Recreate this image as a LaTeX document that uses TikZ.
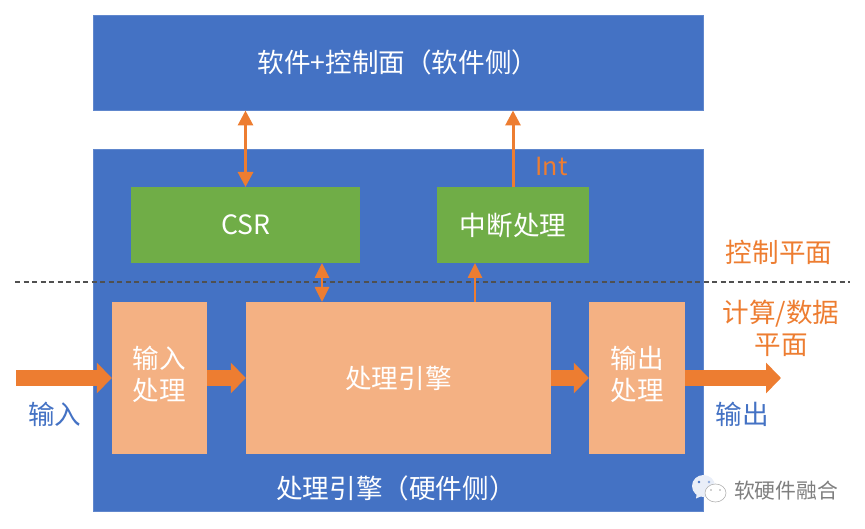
\documentclass[tikz,border=0pt]{standalone}
\usepackage{fontspec}
\setmainfont{Noto Sans CJK SC}[BoldFont={Noto Sans CJK SC}]
\usetikzlibrary{arrows.meta,positioning,calc}
\definecolor{blueb}{HTML}{4472C4}
\definecolor{greenb}{HTML}{70AD47}
\definecolor{peachb}{HTML}{F4B183}
\definecolor{orangeb}{HTML}{ED7D31}
\definecolor{dashc}{HTML}{505050}
\definecolor{markc}{HTML}{7F7F7F}
\tikzset{
 x=1pt,y=-1pt,
 panel/.style={draw=blueb!85!white,line width=.6pt,fill=blueb,text=white,inner sep=0pt,minimum width=#1},
 gbox/.style={draw=none,fill=greenb,text=white,inner sep=0pt,minimum height=76pt,minimum width=#1},
 pbox/.style={draw=none,fill=peachb,text=white,inner sep=0pt,minimum height=152pt,minimum width=#1,align=center},
 lab/.style={font=\fontsize{26.6}{32}\selectfont,inner sep=0pt},
 thinarrow/.style={draw=orangeb,line width=3pt,-{Triangle[length=15pt,width=15pt]}},
 thinboth/.style={draw=orangeb,line width=3pt,{Triangle[length=15pt,width=15pt]}-{Triangle[length=15pt,width=15pt]}},
 smallboth/.style={draw=orangeb,line width=2.6pt,{Triangle[length=15pt,width=14pt]}-{Triangle[length=15pt,width=14pt]}},
 smallarrow/.style={draw=orangeb,line width=2.6pt,-{Triangle[length=15pt,width=14pt]}},
 blockarrow/.style={draw=orangeb,line width=16pt,-{Triangle[length=15pt,width=30pt]}},
}
\begin{document}
\begin{tikzpicture}
\useasboundingbox (0,0) rectangle (865,529);
\node[panel=610pt,minimum height=95pt,lab] (top) at (398,62.5) {\raisebox{1pt}{软件+控制面（软件侧）}};
\node[panel=610pt,minimum height=362pt] (bottom) at (398,330) {};
\node[lab,text=white] (bottomlabel) at (396,488) {处理引擎（硬件侧）};
\node[gbox=229pt,lab] (csr) at (245.5,225) {\raisebox{1pt}{CSR}};
\node[gbox=152pt,lab] (irq) at (513,225) {\raisebox{1pt}{中断处理}};
\node[pbox=95pt,lab] (inproc) at (159.5,378) {\raisebox{2pt}{\begin{tabular}{@{}c@{}}输入\\处理\end{tabular}}};
\node[pbox=305pt,lab] (engine) at (398.5,378) {处理引擎};
\node[pbox=96pt,lab] (outproc) at (637,378) {\raisebox{2pt}{\begin{tabular}{@{}c@{}}输出\\处理\end{tabular}}};
% dashed separator
\coordinate (dl) at (15,282);
\coordinate (dr) at (850,282);
\draw[dashc,line width=2.6pt,dash pattern=on 5pt off 3.5pt] (dl) -- (dr);
% thin arrows
\draw[thinboth] (245.5,110.5) -- (245.5,187);
\draw[thinarrow] (513,187) -- (513,110.5);
\draw[smallboth] (322,263) -- (322,302);
\draw[smallarrow] (475,302) -- (475,263);
% block arrows
\coordinate (instart) at (16,378);
\coordinate (outend) at (781,378);
\draw[blockarrow] (instart) -- (inproc.west);
\draw[blockarrow] (inproc.east) -- (engine.west);
\draw[blockarrow] (engine.east) -- (outproc.west);
\draw[blockarrow] (outproc.east) -- (outend);
% labels
\node[font=\fontsize{25}{32}\selectfont,inner sep=0pt,text=orangeb] (int) at (551.5,167) {Int};
\node[lab,text=orangeb] (ctrl) at (779,252) {控制平面};
\node[lab,text=orangeb,align=center] (calc) at (781,328) {计算/数据\\平面};
\node[lab,text=blueb] (inlab) at (55,414) {输入};
\node[lab,text=blueb] (outlab) at (742,414) {输出};
% watermark
\node[font=\fontsize{20.8}{24}\selectfont,text=markc,inner sep=0pt] (wm) at (786,491) {软硬件融合};
\fill[blueb!12!white] (703.5,486) ellipse (11.5 and 11);
\fill[blueb!12!white] (697,492) -- (696,498.5) -- (704,495) -- cycle;
\fill[blueb] (699,482) circle (1.3);
\fill[blueb!60!white] (709,482) circle (1.3);
\filldraw[draw=markc!60!white,fill=white,line width=.6pt] (715.5,493) ellipse (10.5 and 9);
\fill[markc!70!white] (711,490) circle (.8) (720,490) circle (.8);
\end{tikzpicture}
\end{document}
